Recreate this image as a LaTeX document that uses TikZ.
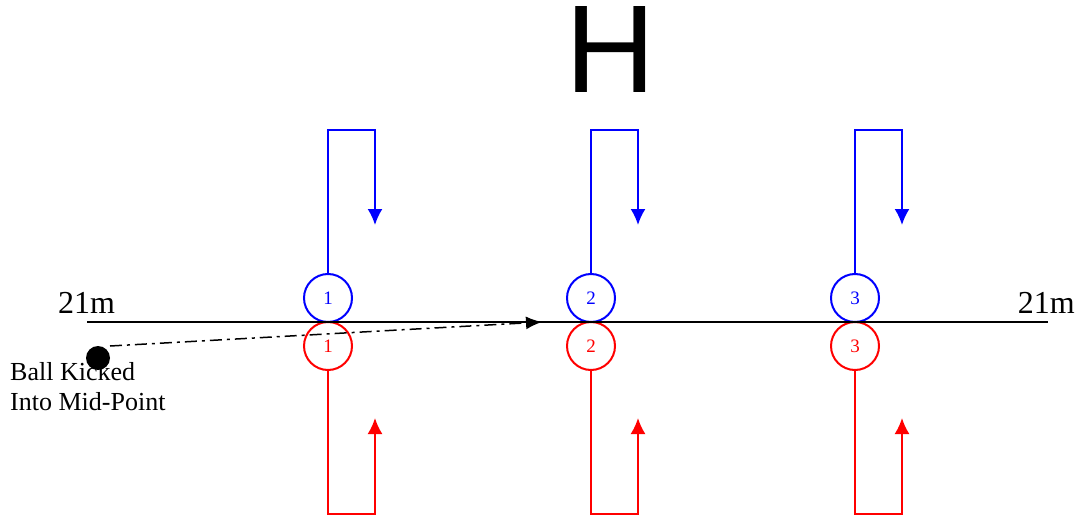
\documentclass[tikz,border=0pt]{standalone}
\usepackage{fontspec}
\setmainfont{Liberation Serif}
\newfontfamily\headfont{Liberation Sans}
\usetikzlibrary{arrows.meta}
\tikzstyle{blueman}=[circle, draw=blue, line width=2pt, minimum size=48pt, inner sep=0pt, text=blue, font=\fontsize{19}{19}\selectfont]
\tikzstyle{redman}=[circle, draw=red, line width=2pt, minimum size=48pt, inner sep=0pt, text=red, font=\fontsize{19}{19}\selectfont]
\tikzstyle{ball}=[circle, fill, minimum size=24pt, inner sep=0pt]
\tikzstyle{label}=[inner sep=0pt, font=\fontsize{32}{32}\selectfont]
\tikzstyle{run}=[line width=2pt, >={Latex[length=16pt,width=15pt]}]
\tikzstyle{kick}=[line width=1.5pt, dash pattern=on 12pt off 5pt on 3pt off 5pt, >={Latex[length=16pt,width=13pt]}]

\begin{document}
\begin{tikzpicture}[x=1pt, y=-1pt]
		   \useasboundingbox (0,0) rectangle (1079,516);
		   \begin{scope}
			   \node (H) at (611,6)[anchor=north, inner sep=0pt, font=\headfont\fontsize{125}{125}\selectfont] {H};
			   \node (leftm) at (58,313)[label, anchor=base west] {21m};
			   \node (rightm) at (1075,313)[label, anchor=base east] {21m};
			   \node (b1) at (328,298)[blueman] {1};
			   \node (b2) at (591,298)[blueman] {2};
			   \node (b3) at (855,298)[blueman] {3};
			   \node (r1) at (328,346)[redman] {1};
			   \node (r2) at (591,346)[redman] {2};
			   \node (r3) at (855,346)[redman] {3};
			   \node (ball) at (98,358)[ball] {};
			   \node (balltext) at (10,410)[anchor=base west, inner sep=0pt, align=left, font=\fontsize{26}{30}\selectfont] {Ball Kicked\\Into Mid-Point};
			   \coordinate (lineL) at (87,322);
			   \coordinate (lineR) at (1048,322);
			   \coordinate (kickstart) at (110,346);
			   \coordinate (mid) at (542,322);
			   \coordinate (bc1) at (375,130);
			   \coordinate (bc2) at (638,130);
			   \coordinate (bc3) at (902,130);
			   \coordinate (ba1) at (375,225);
			   \coordinate (ba2) at (638,225);
			   \coordinate (ba3) at (902,225);
			   \coordinate (rc1) at (375,514);
			   \coordinate (rc2) at (638,514);
			   \coordinate (rc3) at (902,514);
			   \coordinate (ra1) at (375,418);
			   \coordinate (ra2) at (638,418);
			   \coordinate (ra3) at (902,418);
		   \end{scope}
		   \begin{scope}
			   \draw [line width=2pt] (lineL) -- (lineR);
			   \draw [kick, ->] (kickstart) -- (mid);
			   \draw [run, blue, ->] (b1.north) |- (bc1) -- (ba1);
			   \draw [run, blue, ->] (b2.north) |- (bc2) -- (ba2);
			   \draw [run, blue, ->] (b3.north) |- (bc3) -- (ba3);
			   \draw [run, red, ->] (r1.south) |- (rc1) -- (ra1);
			   \draw [run, red, ->] (r2.south) |- (rc2) -- (ra2);
			   \draw [run, red, ->] (r3.south) |- (rc3) -- (ra3);
		   \end{scope}
	   \end{tikzpicture}
\end{document}
